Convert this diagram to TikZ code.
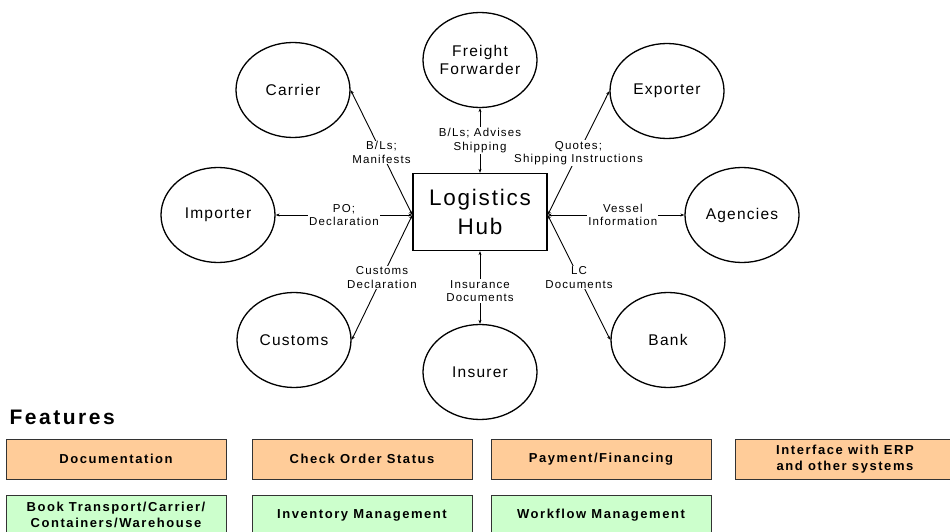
\documentclass[tikz,border=0pt]{standalone}
\usepackage{fontspec}
\setmainfont{Liberation Sans}
\newfontfamily\partyfont[LetterSpace=8]{Liberation Sans}
\newfontfamily\flowfont[LetterSpace=10]{Liberation Sans}
\newfontfamily\featfont[LetterSpace=12]{Liberation Sans}
\usepackage{tikz}
\usetikzlibrary{shapes.geometric,arrows.meta,shadows}
\definecolor{featorange}{HTML}{FFCC99}
\definecolor{featgreen}{HTML}{CCFFCC}
\tikzset{
party/.style={
		draw,
		ellipse,
		line width=1.3pt,
		minimum width=114pt,
		minimum height=95pt,
		inner sep=0pt,
		align=center,
		font=\partyfont\fontsize{15.5}{17.5}\selectfont
	},
hubbox/.style={
		draw,
		line width=1.3pt,
		minimum width=134pt,
		minimum height=77pt,
		align=center,
		font=\partyfont\fontsize{22.5}{29}\selectfont
	},
flow/.style={
		line width=0.9pt,
		{Stealth[length=4pt,width=3pt]}-{Stealth[length=4pt,width=3pt]}
	},
flowtext/.style={
		fill=white,
		inner sep=1pt,
		align=center,
		font=\flowfont\fontsize{11.5}{13.5}\selectfont
	},
feature/.style={
		draw=black!80,
		line width=0.6pt,
		minimum width=220pt,
		minimum height=40pt,
		align=center,
		font=\featfont\bfseries\fontsize{13}{16.5}\selectfont,
		drop shadow={shadow xshift=1.2pt,shadow yshift=-1.2pt,fill=black!60,opacity=1}
	}
}

\begin{document}
\begin{tikzpicture}[x=1pt,y=-1pt]
			\useasboundingbox (0,0) rectangle (950,532);
			\node[hubbox] (hub) at (480,212) {Logistics\\Hub};
			\node[party] (forwarder) at (480,60) {Freight\\Forwarder};
			\node[party] (carrier) at (293,90) {Carrier};
			\node[party] (exporter) at (667,91) {Exporter};
			\node[party] (importer) at (218,215) {Importer};
			\node[party] (agencies) at (742,215) {Agencies};
			\node[party] (customs) at (294,340) {Customs};
			\node[party] (insurer) at (480,372) {Insurer};
			\node[party] (bank) at (668,340) {Bank};
			\draw[flow] ([yshift=-3pt]hub.west) -- node[flowtext]{B/Ls;\\Manifests} (carrier.east);
			\draw[flow] (hub.north) -- node[flowtext]{B/Ls; Advises\\Shipping} (forwarder.south);
			\draw[flow] ([yshift=-3pt]hub.east) -- node[flowtext]{Quotes;\\Shipping Instructions} (exporter.west);
			\draw[flow] ([yshift=-3pt]hub.west) -- node[flowtext]{PO;\\Declaration} (importer.east);
			\draw[flow] ([yshift=-3pt]hub.east) -- node[flowtext,pos=0.55]{Vessel\\Information} (agencies.west);
			\draw[flow] ([yshift=-3pt]hub.west) -- node[flowtext]{Customs\\Declaration} (customs.east);
			\draw[flow] (hub.south) -- node[flowtext,pos=0.55]{Insurance\\Documents} (insurer.north);
			\draw[flow] ([yshift=-3pt]hub.east) -- node[flowtext]{LC\\Documents} (bank.west);
			% features
			\node[anchor=base west,font=\featfont\bfseries\fontsize{21}{24}\selectfont] (features) at (6,424) {Features};
			\node[feature,fill=featorange] (documentation) at (116,459) {Documentation};
			\node[feature,fill=featorange] (orderstatus) at (362,459) {Check Order Status};
			\node[feature,fill=featorange] (payment) at (601,459) {Payment/Financing};
			\node[feature,fill=featorange] (erp) at (845,459) {Interface with ERP\\and other systems};
			\node[feature,fill=featgreen] (transport) at (116,515) {Book Transport/Carrier/\\Containers/Warehouse};
			\node[feature,fill=featgreen] (inventory) at (362,515) {Inventory Management};
			\node[feature,fill=featgreen] (workflow) at (601,515) {Workflow Management};
\end{tikzpicture}
\end{document}
